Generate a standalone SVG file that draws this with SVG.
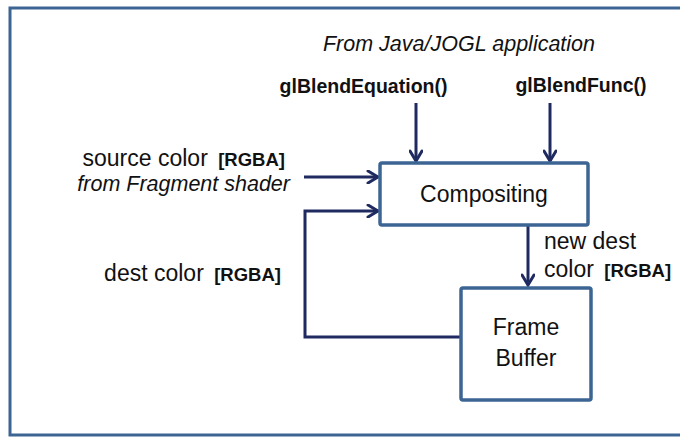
<svg xmlns="http://www.w3.org/2000/svg" width="680" height="438" viewBox="0 0 680 438">
<defs>
<marker id="chev" viewBox="0 0 14 14" refX="12" refY="7" markerWidth="14" markerHeight="14" markerUnits="userSpaceOnUse" orient="auto">
<path d="M2,1 L12,7 L2,13" fill="none" stroke="#1F2A60" stroke-width="3" stroke-linecap="round" stroke-linejoin="miter"/>
</marker>
<style>
.t{font-family:"Liberation Sans",Arial,sans-serif;fill:#111;font-size:23px}
.it{font-style:italic;font-size:21.5px}
.rg{font-weight:bold;font-size:18.5px}
.lbl{font-size:23px;text-anchor:middle}
.fn{font-weight:bold;font-size:19.5px;text-anchor:middle}
.box{fill:#fff;stroke:#3D6594;stroke-width:3.5}
.conn{fill:none;stroke:#1F2A60;stroke-width:3}
</style>
</defs>
<path d="M680,8 H10 V435 H680" fill="none" stroke="#3D6594" stroke-width="3"/>
<text class="t it" x="459" y="51" text-anchor="middle">From Java/JOGL application</text>
<text class="t fn" x="363.5" y="93">glBlendEquation()</text>
<text class="t fn" x="581" y="92">glBlendFunc()</text>
<text class="t" x="285" y="166" text-anchor="end">source color <tspan class="rg" dx="4">[RGBA]</tspan></text>
<text class="t it" x="290" y="191" text-anchor="end">from Fragment shader</text>
<text class="t" x="281" y="281" text-anchor="end">dest color <tspan class="rg" dx="4">[RGBA]</tspan></text>
<text class="t" x="544" y="249">new dest</text>
<text class="t" x="544" y="277">color <tspan class="rg" dx="4">[RGBA]</tspan></text>
<g id="connectors">
<path class="conn" d="M416,103 V161" marker-end="url(#chev)"/>
<path class="conn" d="M550,103 V161" marker-end="url(#chev)"/>
<path class="conn" d="M304,177 H378" marker-end="url(#chev)"/>
<path class="conn" d="M460,337 H305 V211 H378" marker-end="url(#chev)"/>
<path class="conn" d="M528,226 V285" marker-end="url(#chev)"/>
</g>
<g id="compositing">
<rect class="box" x="380" y="163" width="208" height="62" rx="2"/>
<text class="t lbl" x="484" y="202">Compositing</text>
</g>
<g id="framebuffer">
<rect class="box" x="461" y="288" width="130" height="112" rx="2"/>
<text class="t lbl" x="526" y="335">Frame</text>
<text class="t lbl" x="526" y="366">Buffer</text>
</g>
</svg>
